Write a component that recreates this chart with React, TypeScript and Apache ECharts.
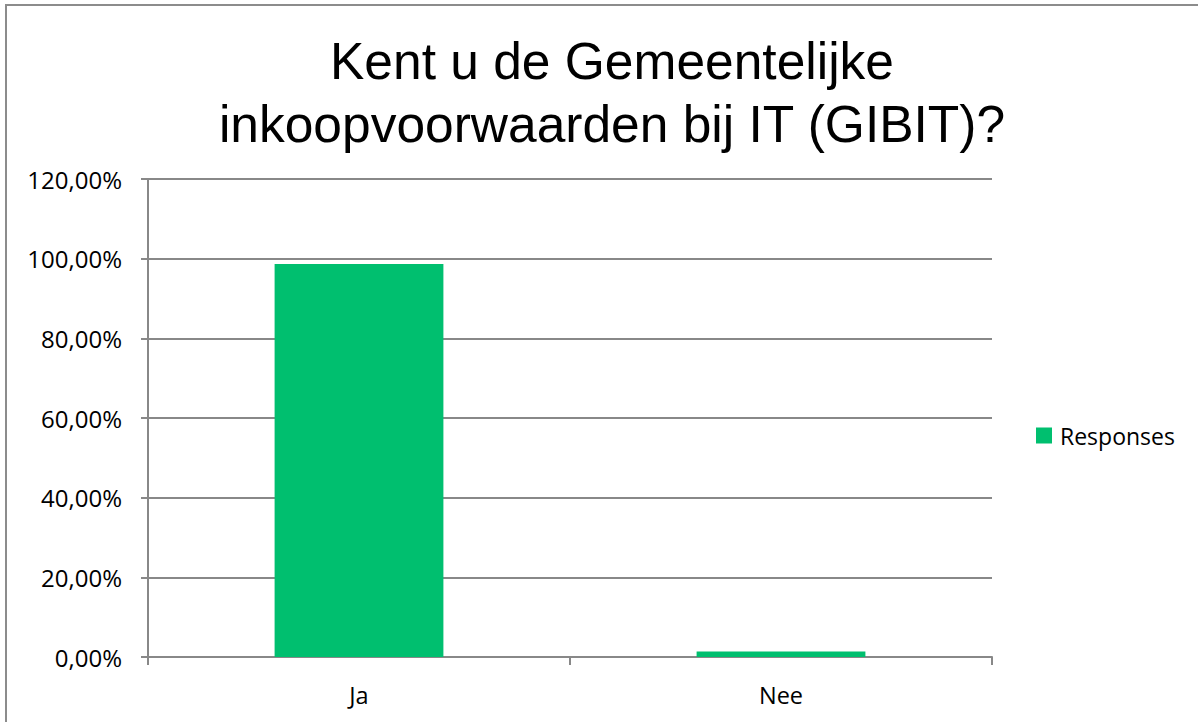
import React, { useEffect, useRef } from "react";
import * as echarts from "echarts";

const categories = ["Ja", "Nee"];
const responses = [98.65, 1.35];
const seriesName = "Responses";
const titleText = "Kent u de Gemeentelijke\ninkoopvoorwaarden bij IT (GIBIT)?";

export default function App() {
  const ref = useRef<HTMLDivElement>(null);
  useEffect(() => {
    document.body.style.margin = "0";
    const chart = echarts.init(ref.current!, null, { renderer: "svg" });
    const labelFont = "'Open Sans', 'Noto Sans', sans-serif";
    chart.setOption({
      animation: false,
      backgroundColor: "#ffffff",
      title: {
        text: titleText,
        left: 607,
        top: 24,
        textAlign: "center",
        textStyle: {
          fontFamily: "'Liberation Sans', Arial, sans-serif",
          fontSize: 51.5,
          fontWeight: "normal",
          color: "#000000",
          lineHeight: 63,
        },
      },
      legend: {
        orient: "vertical",
        left: 1036,
        top: 424,
        padding: 0,
        itemWidth: 16,
        itemHeight: 16,
        icon: "rect",
        data: [seriesName],
        textStyle: {
          fontFamily: labelFont,
          fontSize: 23,
          color: "#000000",
          padding: [0, 0, 0, 3],
        },
      },
      grid: {
        left: 148,
        right: 1198 - 992,
        top: 179,
        bottom: 722 - 657,
        containLabel: false,
      },
      xAxis: {
        type: "category",
        data: categories,
        axisLine: { show: true, lineStyle: { color: "#888888", width: 2 } },
        axisTick: { show: true, alignWithLabel: false, length: 8, lineStyle: { color: "#888888", width: 2 } },
        axisLabel: {
          fontFamily: labelFont,
          fontSize: 23.5,
          color: "#000000",
          margin: 26,
        },
        splitLine: { show: false },
      },
      yAxis: {
        type: "value",
        min: 0,
        max: 120,
        interval: 20,
        axisLine: { show: true, lineStyle: { color: "#888888", width: 2 } },
        axisTick: { show: true, length: 7, lineStyle: { color: "#888888", width: 2 } },
        axisLabel: {
          fontFamily: labelFont,
          fontSize: 24,
          color: "#000000",
          margin: 26,
          formatter: (v: number) => v.toFixed(2).replace(".", ",") + "%",
        },
        splitLine: { show: true, lineStyle: { color: "#888888", width: 2 } },
      },
      series: [
        {
          name: seriesName,
          type: "bar",
          data: responses,
          barCategoryGap: "60%",
          itemStyle: { color: "#00BF6F" },
        },
      ],
      graphic: [
        {
          type: "rect",
          shape: { x: 6, y: 5, width: 1400, height: 900 },
          style: { fill: "none", stroke: "#8c8c8c", lineWidth: 2 },
          silent: true,
        },
      ],
    });
    return () => chart.dispose();
  }, []);
  return (
    <div
      ref={ref}
      style={{ position: "fixed", left: 0, top: 0, width: 1198, height: 722 }}
    />
  );
}
